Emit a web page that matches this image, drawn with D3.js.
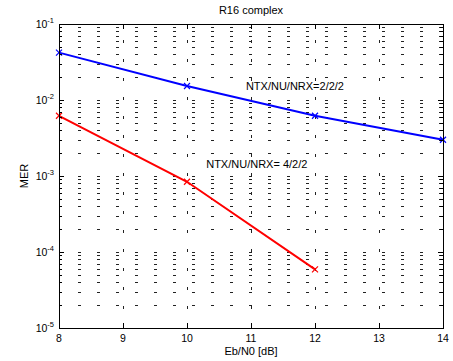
<!DOCTYPE html>
<html><head><meta charset="utf-8">
<script src="https://cdn.jsdelivr.net/npm/d3@7"></script>
<style>body{margin:0;background:#fff}svg{display:block;font-family:"Liberation Sans",Arial,sans-serif}</style>
</head><body>
<svg id="c" width="453" height="361"></svg>
<script>
const title = "R16 complex";
const xLabel = "Eb/N0 [dB]";
const yLabel = "MER";
const xTicks = [8, 9, 10, 11, 12, 13, 14];
const yDecades = [-5, -4, -3, -2, -1];
const blueX = [8, 10, 12, 14];
const blueY = [0.042, 0.0153, 0.0062, 0.0030];
const redX = [8, 10, 12];
const redY = [0.0062, 0.00084, 0.000059];
const labels = [
  {text: "NTX/NU/NRX=2/2/2", x: 10.92, y: 0.0137},
  {text: "NTX/NU/NRX= 4/2/2", x: 10.3, y: 0.00127}
];

const svg = d3.select("#c");
const L = 59, R = 443, T = 24, B = 328;
const x = d3.scaleLinear().domain([8, 14]).range([L, R]);
const y = d3.scaleLog().domain([1e-5, 1e-1]).range([B, T]);

// minor/major y values
const yAll = [];
yDecades.slice(0, -1).forEach(d => { for (let k = 1; k <= 9; k++) yAll.push(k * Math.pow(10, d)); });
yAll.push(1e-1);

const g = svg.append("g");
// grid
const grid = g.append("g").attr("stroke", "#222").attr("stroke-width", 1).attr("stroke-dasharray", "3,16").attr("fill", "none");
yAll.forEach(v => {
  const yy = Math.round(y(v)) + 0.5;
  grid.append("line").attr("x1", L).attr("x2", R).attr("y1", yy).attr("y2", yy);
});
xTicks.forEach(v => {
  const xx = Math.round(x(v)) + 0.5;
  grid.append("line").attr("x1", xx).attr("x2", xx).attr("y1", B).attr("y2", T);
});

// series
const line = d3.line().x(d => x(d[0])).y(d => y(d[1]));
function series(xs, ys, color) {
  const pts = xs.map((v, i) => [v, ys[i]]);
  g.append("path").datum(pts).attr("d", line).attr("fill", "none").attr("stroke", color).attr("stroke-width", 2);
  pts.forEach(p => {
    const cx = x(p[0]), cy = y(p[1]), s = 3;
    g.append("path").attr("d", `M${cx-s},${cy-s}L${cx+s},${cy+s}M${cx-s},${cy+s}L${cx+s},${cy-s}`)
      .attr("stroke", color).attr("stroke-width", 1.2).attr("fill", "none");
  });
}
series(blueX, blueY, "#0000ff");
series(redX, redY, "#ff0000");

// axes box
const ax = g.append("g").attr("stroke", "#000").attr("stroke-width", 1).attr("fill", "none").attr("shape-rendering", "crispEdges");
ax.append("rect").attr("x", L + 0.5).attr("y", T + 0.5).attr("width", R - L).attr("height", B - T);
yAll.forEach(v => {
  const yy = Math.round(y(v)) + 0.5;
  const major = Math.abs(Math.log10(v) - Math.round(Math.log10(v))) < 1e-9;
  const len = major ? 5 : 3;
  ax.append("line").attr("x1", L).attr("x2", L + len).attr("y1", yy).attr("y2", yy);
  ax.append("line").attr("x1", R).attr("x2", R - len).attr("y1", yy).attr("y2", yy);
});
xTicks.forEach(v => {
  const xx = Math.round(x(v)) + 0.5;
  ax.append("line").attr("x1", xx).attr("x2", xx).attr("y1", B).attr("y2", B - 5);
  ax.append("line").attr("x1", xx).attr("x2", xx).attr("y1", T).attr("y2", T + 5);
});

// tick labels
xTicks.forEach(v => {
  svg.append("text").attr("x", x(v)).attr("y", B + 14).attr("text-anchor", "middle")
    .attr("font-size", 10.5).text(v);
});
yDecades.forEach(d => {
  const t = svg.append("text").attr("x", L - 5).attr("y", y(Math.pow(10, d)) + 4)
    .attr("text-anchor", "end").attr("font-size", 10.5);
  t.append("tspan").text("10");
  t.append("tspan").attr("dy", -5).attr("font-size", 7.5).text(String(d).replace("-", "-"));
});

// titles
svg.append("text").attr("x", (L + R) / 2).attr("y", 14).attr("text-anchor", "middle").attr("font-size", 11).text(title);
svg.append("text").attr("x", (L + R) / 2).attr("y", 355).attr("text-anchor", "middle").attr("font-size", 11).text(xLabel);
svg.append("text").attr("transform", `translate(28,${(T + B) / 2}) rotate(-90)`).attr("text-anchor", "middle").attr("font-size", 11).text(yLabel);

labels.forEach(l => {
  svg.append("text").attr("x", x(l.x)).attr("y", y(l.y)).attr("font-size", 11).text(l.text);
});
</script>
</body></html>
